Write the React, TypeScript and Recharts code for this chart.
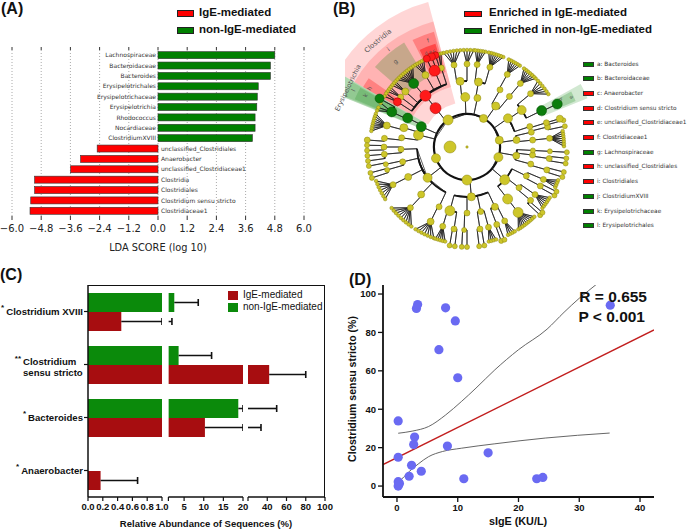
import React from 'react';
import {
  BarChart, Bar, XAxis, YAxis, CartesianGrid, Scatter,
  PieChart, Pie, Cell, ComposedChart, Line,
} from 'recharts';

const SANS = '"Liberation Sans", Arial, sans-serif';
const DJ = '"DejaVu Sans", sans-serif';

// ---------------- Panel A: LDA scores ----------------
const ldaTaxa = [
  'Lachnospiraceae', 'Bacteroidaceae', 'Bacteroides', 'Erysipelotrichales', 'Erysipelotrichaceae',
  'Erysipelotrichia', 'Rhodococcus', 'Nocardiaceae', 'ClostridiumXVIII', 'unclassified_Clostridiales',
  'Anaerobacter', 'unclassified_Clostridiaceae1', 'Clostridia', 'Clostridiales',
  'Clostridium sensu stricto', 'Clostridiaceae1',
];
const ldaScores = [4.8, 4.62, 4.62, 4.12, 4.08, 4.06, 3.99, 3.99, 3.88, -2.5, -3.18, -3.59, -5.07, -5.07, -5.23, -5.26];
const ldaTicks = [-6, -4.8, -3.6, -2.4, -1.2, 0, 1.2, 2.4, 3.6, 4.8, 6];
const groupNames = ['IgE-mediated', 'non-IgE-mediated'];

// ---------------- Panel B: cladogram ----------------
const cladePhyla: [number, number][] = [[125, 5], [200, 4.5], [270, 5], [342, 4.5], [12, 4], [60, 4]];
// parentAngle, parentRadius, childAngle, childRadius, colour, node size
const cladeEdges: [number, number, number, number, string, number][] = [
  [125, .33, 92, .5, 'y', 4.5], [125, .33, 129, .5, 'r', 5.5], [125, .33, 156, .5, 'g', 5], [125, .33, 166, .5, 'y', 5],
  [92, .5, 96, .66, 'y', 4], [96, .66, 99, .83, 'y', 3], [96, .66, 90, .83, 'y', 3],
  [129, .5, 129, .66, 'r', 5.5],
  [129, .66, 108, .83, 'y', 3], [129, .66, 113, .83, 'r', 5.5], [129, .66, 120, .83, 'y', 3.5], [129, .66, 130, .83, 'g', 5],
  [129, .66, 138, .83, 'y', 3.5], [129, .66, 143, .83, 'y', 3], [129, .66, 147, .83, 'r', 4],
  [113, .83, 109, .97, 'r', 3.5], [113, .83, 111.5, .97, 'r', 4], [113, .83, 114.5, .97, 'r', 3.5],
  [156, .5, 154, .66, 'g', 5], [154, .66, 155, .83, 'g', 5], [155, .83, 151, 1.0, 'g', 4.5],
  [166, .5, 163, .66, 'y', 4], [163, .66, 165, .83, 'y', 3.5], [166, .5, 172, .66, 'y', 3], [172, .66, 174, .83, 'y', 3], [174, .83, 176, 1.0, 'y', 3],
  [200, .33, 218, .5, 'y', 4.5],
  [218, .5, 182, .66, 'y', 3], [182, .66, 180, .83, 'y', 3], [180, .83, 179, 1.0, 'y', 2.5], [180, .83, 182, 1.0, 'y', 2.5],
  [182, .66, 185, .83, 'y', 3], [185, .83, 185, 1.0, 'y', 2.5], [185, .83, 188, 1.0, 'y', 2.5],
  [218, .5, 193, .66, 'y', 3], [193, .66, 192, .83, 'y', 2.5], [192, .83, 191, 1.0, 'y', 2.5], [193, .66, 196, .83, 'y', 2.5],
  [196, .83, 195, 1.0, 'y', 2.5], [196, .83, 198, 1.0, 'y', 2.5],
  [218, .5, 207, .66, 'y', 3.5], [207, .66, 207, .83, 'y', 3],
  [218, .5, 226, .66, 'y', 3.5], [226, .66, 227, .83, 'y', 3],
  [218, .5, 245, .66, 'y', 3], [245, .66, 244, .83, 'y', 3.5],
  [270, .33, 275, .5, 'y', 4],
  [275, .5, 255, .66, 'y', 5], [255, .66, 253, .83, 'y', 3], [255, .66, 261, .83, 'y', 3], [261, .83, 260, 1.0, 'y', 2.5], [261, .83, 263, 1.0, 'y', 2.5],
  [275, .5, 270, .66, 'y', 3], [270, .66, 268, .83, 'y', 2.5], [268, .83, 267, 1.0, 'y', 2.5], [268, .83, 270, 1.0, 'y', 2.5],
  [275, .5, 282, .66, 'y', 3], [282, .66, 279, .83, 'y', 3], [279, .83, 277, 1.0, 'y', 2.5], [279, .83, 280, 1.0, 'y', 2.5], [282, .66, 285, .83, 'y', 3],
  [275, .5, 295, .66, 'y', 3.5], [295, .66, 291, .83, 'y', 3], [291, .83, 290, 1.0, 'y', 2.5], [291, .83, 292, 1.0, 'y', 2.5], [295, .66, 297, .83, 'y', 3],
  [342, .33, 319, .5, 'y', 5],
  [319, .5, 308, .66, 'y', 5], [308, .66, 308, .83, 'y', 5],
  [319, .5, 322, .66, 'y', 3], [322, .66, 320, .83, 'y', 3], [320, .83, 317, 1.0, 'y', 2.5], [320, .83, 319, 1.0, 'y', 2.5], [322, .66, 325, .83, 'y', 3],
  [319, .5, 334, .66, 'y', 3], [334, .66, 332, .83, 'y', 3], [332, .83, 331, 1.0, 'y', 2.5], [332, .83, 333.5, 1.0, 'y', 2.5], [334, .66, 337, .83, 'y', 3],
  [342, .33, 350, .5, 'y', 3.5], [350, .5, 345, .66, 'y', 3], [345, .66, 344, .83, 'y', 3], [344, .83, 342.5, 1.0, 'y', 2.5], [344, .83, 345.5, 1.0, 'y', 2.5],
  [350, .5, 353, .66, 'y', 3], [353, .66, 352, .83, 'y', 3], [352, .83, 350.5, 1.0, 'y', 2.5], [352, .83, 353.5, 1.0, 'y', 2.5],
  [350, .5, 357, .66, 'y', 2.5], [357, .66, 357, .83, 'y', 2.5], [357, .83, 357, 1.0, 'y', 2.5],
  [12, .33, 8, .5, 'y', 3.5], [8, .5, 6, .66, 'y', 3], [6, .66, 6, .83, 'y', 3],
  [8, .5, 13, .66, 'y', 3], [13, .66, 14, .83, 'y', 3], [14, .83, 12, 1.0, 'y', 2.5], [14, .83, 15.5, 1.0, 'y', 2.5],
  [12, .33, 35, .5, 'y', 4.5], [35, .5, 18, .66, 'y', 3], [18, .66, 17, .83, 'y', 3], [17, .83, 17, .97, 'y', 3.5],
  [35, .5, 34, .66, 'y', 4.5], [34, .66, 26, .83, 'g', 5], [26, .83, 25.5, 1.0, 'g', 5], [34, .66, 40, .83, 'y', 3],
  [60, .33, 55, .5, 'y', 4], [55, .5, 50, .66, 'y', 3], [50, .66, 50, .83, 'y', 3], [55, .5, 60, .66, 'y', 3], [60, .66, 61, .83, 'y', 3],
  [60, .33, 78, .5, 'y', 3.5], [78, .5, 80, .66, 'y', 4], [80, .66, 74, .83, 'y', 3], [80, .66, 83, .83, 'y', 3],
];
// fan node angle, node radius, leaf angles
const cladeFans: [number, number, number[]][] = [
  [99, .83, [94, 96, 98, 100, 102, 104]], [90, .83, [86, 88, 90, 92]],
  [108, .83, [105.5, 107]], [120, .83, [116.5, 118, 119.5, 121, 122.5]],
  [130, .83, [124, 125.5, 127, 128.5, 130, 131.5, 133, 134.5, 136]], [138, .83, [137.5, 139, 140.5]],
  [143, .83, [142, 143.5, 145]], [147, .83, [146.5, 148.5]], [155, .83, [153, 156, 158]],
  [165, .83, [160, 161.5, 163, 164.5, 166, 167.5, 169, 170.5]],
  [207, .83, [200.5, 202.5, 204.5, 206.5, 208.5, 210.5, 212.5]],
  [227, .83, [219, 221, 223, 225, 227, 229, 231, 233, 235]],
  [244, .83, [238, 240, 242, 244, 246, 248, 250]],
  [253, .83, [251, 252.5, 254, 255.5, 257]], [285, .83, [283, 284.5, 286, 287.5]], [297, .83, [295, 296.5, 298, 299.5]],
  [308, .83, [302, 303.5, 305, 306.5, 308, 309.5, 311, 312.5, 314]],
  [325, .83, [321, 322.5, 324, 325.5, 327, 328.5]], [337, .83, [335.5, 337, 338.5, 340]],
  [6, .83, [0.5, 2, 3.5, 5, 6.5, 8, 9.5]], [40, .83, [33, 35, 37, 39, 41, 43]],
  [50, .83, [45, 46.5, 48, 49.5, 51, 52.5, 54]], [61, .83, [57, 58.5, 60, 61.5, 63, 64.5]],
  [74, .83, [68, 69.5, 71, 72.5, 74, 75.5, 77]], [83, .83, [79, 80.5, 82, 83.5, 85]],
];
// startAngle, endAngle, innerR, outerR, colour, opacity
const cladeWedges: [number, number, number, number, string, number][] = [
  [105, 150, .45, 1.5, '#ff0000', 0.16],
  [105, 150, .62, 1.3, '#ff0000', 0.16],
  [106, 117, .78, 1.2, '#ff0000', 0.28],
  [107, 116, .95, 1.08, '#ff0000', 0.45],
  [121, 139, .8, 1.22, '#008000', 0.22],
  [145, 150, .8, 1.2, '#ff0000', 0.28],
  [150, 158, .47, 1.5, '#008000', 0.3],
  [150.5, 157.5, .63, 1.32, '#008000', 0.18],
  [151, 157, .8, 1.22, '#008000', 0.18],
  [22, 29, .8, 1.3, '#008000', 0.18],
  [23, 28, .95, 1.18, '#008000', 0.22],
];
const cladeLabels: [string, number, number, number, number][] = [
  ['Clostridia', 130, 1.39, -40, 7],
  ['i', 129, 1.26, -39, 6], ['g', 130, 1.12, -40, 6], ['f', 110, 1.14, -20, 6], ['d e c', 111.5, 1.02, -20, 4.5],
  ['h', 149, 1.14, -59, 6], ['l', 153.5, 1.27, -63, 6], ['k', 153, 1.14, -63, 6],
  ['b', 27, 1.05, 63, 5], ['a', 25.5, 1.16, 64, 5],
];
const outerLabel: [string, number, number, number, number] = ['Erysipelotrichia', 154.5, 1.36, -64, 6.6];
const cladeLegend: [string, string][] = [
  ['a: Bacteroides', 'g'], ['b: Bacteroidaceae', 'g'], ['c: Anaerobacter', 'r'], ['d: Clostridium sensu stricto', 'r'],
  ['e: unclassified_Clostridiaceae1', 'r'], ['f: Clostridiaceae1', 'r'], ['g: Lachnospiraceae', 'g'],
  ['h: unclassified_Clostridiales', 'r'], ['i: Clostridiales', 'r'], ['j: ClostridiumXVIII', 'g'],
  ['k: Erysipelotrichaceae', 'g'], ['l: Erysipelotrichales', 'g'],
];
const enrichedNames = ['Enriched in IgE-mediated', 'Enriched in non-IgE-mediated'];

// ---------------- Panel C: relative abundance ----------------
const abundLabels = ['Clostridium XVIII', 'Clostridium\nsensu stricto', 'Bacteroides', 'Anaerobacter'];
const abundStars = ['*', '**', '*', '*'];
const igeMean = [0.45, 42, 10.3, 0.17];
const igeErr = [1.45, 38, 23.2, 0.5];
const nonIgeMean = [2.5, 3.6, 18.8, 0];
const nonIgeErr = [6.1, 8.4, 31, 0];
const seg1Ticks = [0, 0.2, 0.4, 0.6, 0.8, 1.0];
const seg2Ticks = [1, 5, 10, 15, 20];
const seg3Ticks = [20, 40, 60, 80, 100];

// ---------------- Panel D: correlation ----------------
const sigeX = [3.2, 3.4, 8.0, 9.6, 6.9, 10.0, 0.2, 2.9, 2.75, 8.3, 15.0, 0.2, 2.4, 4.0, 2.0, 11.0, 23.0, 24.0, 0.2, 0.3, 0.2, 0.4, 35.1];
const cssY = [92.5, 94.5, 92.8, 86, 71, 56.4, 33.9, 25.5, 21.6, 20.8, 17.3, 15, 10.8, 7.7, 5.1, 3.8, 3.8, 4.5, 2.3, 0.8, 0, 1.5, 94.2];
const fitPts: [number, number][] = [[-2.3, 11.2], [42.3, 81.3]];
const ciUpperPts: [number, number][] = [[0.2, 27.5], [2.5, 28.6], [5.2, 31], [8, 37], [10.6, 44], [13, 51], [16.1, 60.5], [20, 71], [24.7, 81.7], [27.5, 90.5], [30, 97.8], [33, 105.5], [35, 111]];
const ciLowerPts: [number, number][] = [[0.2, 1.7], [2, 7.5], [3.5, 11.5], [5.2, 15.3], [7.5, 18], [10.6, 19.7], [16.1, 22], [24.4, 25], [35, 27.6]];
const dXTicks = [0, 10, 20, 30, 40];
const dYTicks = [0, 20, 40, 60, 80, 100];

// ---------------- helpers / derived tables ----------------
const RED_A = '#ff0000';
const GREEN_A = '#008000';
const RED_C = '#a70d10';
const GREEN_C = '#0b8a0b';
const colorOf: Record<string, string> = { r: '#ff1a1a', g: '#0b7d0b', y: '#cdc62a' };
const strokeOf: Record<string, string> = { r: '#9a0000', g: '#054d05', y: '#8c870f' };

const ldaData = ldaTaxa.map((name, i) => ({ name, score: ldaScores[i] }));
const fmtLda = (v: number) => (v < 0 ? '\u2212' : '') + Math.abs(v).toFixed(1);

const toXY = (a: number, r: number) => ({ x: r * Math.cos((a * Math.PI) / 180), y: r * Math.sin((a * Math.PI) / 180) });
const LEAF_R = 0.97;
const yellowNodes = [
  { ...toXY(180, 0.17), s: 6, c: 'y' },
  { ...toXY(0, 0), s: 1.2, c: 'y' },
  ...cladeFans.flatMap(([, , leaves]) => leaves.map((l) => ({ ...toXY(l, LEAF_R), s: 1.8, c: 'y' }))),
  ...cladePhyla.map(([a, s]) => ({ ...toXY(a, 0.33), s, c: 'y' })),
  ...cladeEdges.filter((e) => e[4] === 'y').map(([, , ca, cr, c, s]) => ({ ...toXY(ca, cr), s, c })),
];
const colouredNodes = cladeEdges.filter((e) => e[4] !== 'y').map(([, , ca, cr, c, s]) => ({ ...toXY(ca, cr), s, c }));
const cladeNodes = [...yellowNodes, ...colouredNodes];

// one path per phylum: depth-first walk out along each branch and back again
function walkClade(a: number, r: number, path: { x: number; y: number }[]) {
  const kids = cladeEdges.filter((e) => e[0] === a && e[1] === r).sort((p, q) => p[2] - q[2]);
  kids.forEach(([, , ca, cr]) => {
    path.push(toXY(ca, r));
    path.push(toXY(ca, cr));
    walkClade(ca, cr, path);
    path.push(toXY(ca, r));
  });
  if (kids.length) path.push(toXY(a, r));
  const fan = cladeFans.find((f) => f[0] === a && f[1] === r);
  if (fan) fan[2].forEach((l) => { path.push(toXY(l, LEAF_R)); path.push(toXY(a, r)); });
}
const cladePaths = cladePhyla.map(([a]) => {
  const path = [toXY(a, 0.33)];
  walkClade(a, 0.33, path);
  return path;
});
const cladeArcs = cladeEdges
  .filter(([pa, pr, ca]) => pr > 0.4 && Math.abs(pa - ca) > 0.3)
  .map(([pa, pr, ca]) => [Math.min(pa, ca), Math.max(pa, ca), pr]);

const abundData = abundLabels.map((name, i) => ({
  name, ige: igeMean[i], igeE: igeErr[i], non: nonIgeMean[i], nonE: nonIgeErr[i],
}));

const dPoints = sigeX.map((x, i) => ({ x, y: cssY[i] }));
const fitData = fitPts.map(([x, y]) => ({ x, y }));
const ciUpper = ciUpperPts.map(([x, y]) => ({ x, y }));
const ciLower = ciLowerPts.map(([x, y]) => ({ x, y }));

// ---------------- shapes ----------------
const LdaBar = (p: any) => {
  const { x, y, width, height, payload } = p;
  const left = Math.min(x, x + width);
  const w = Math.abs(width);
  const pos = payload.score > 0;
  const zero = pos ? left : left + w;
  return (
    <g>
      <rect x={left} y={y} width={w} height={height} fill={pos ? GREEN_A : RED_A} stroke="#333" strokeWidth={0.6} />
      <text x={pos ? zero - 2 : zero + 3} y={y + height / 2} dy="0.35em" textAnchor={pos ? 'end' : 'start'}
        fontSize={6} fontFamily={DJ} fill="#333">{payload.name}</text>
    </g>
  );
};

const NodeShape = (p: any) => {
  const { cx, cy, payload } = p;
  return <circle cx={cx} cy={cy} r={payload.s} fill={colorOf[payload.c]} stroke={strokeOf[payload.c]} strokeWidth={0.5} />;
};

const ErrShape = (p: any) => {
  const { x, y, width, height } = p;
  if (!width || width <= 0) return <g />;
  const cy = y + height / 2;
  const x2 = x + width;
  return (
    <g>
      <line x1={x} y1={cy} x2={x2} y2={cy} stroke="#111" strokeWidth={1.6} />
      <line x1={x2} y1={cy - 3.5} x2={x2} y2={cy + 3.5} stroke="#111" strokeWidth={1.6} />
    </g>
  );
};

const AbundTick = (p: any) => {
  const { x, y, payload } = p;
  const i = abundLabels.indexOf(payload.value);
  const lines = abundLabels[i].split('\n');
  const star = abundStars[i];
  const right = x + 1;
  const common = { fontFamily: SANS, fontWeight: 'bold' as const, fill: '#111' };
  if (lines.length === 1) {
    return (
      <text x={right} y={y + 3.5} textAnchor="end" fontSize={9.6} {...common}>
        <tspan fontSize={8} dy={-5}>{star}</tspan>
        <tspan dx={2} dy={5}>{lines[0]}</tspan>
      </text>
    );
  }
  const start = right - 60;
  return (
    <g>
      <text x={start - 2} y={y - 4} textAnchor="end" fontSize={8} {...common}>{star}</text>
      <text x={start} y={y} fontSize={9.6} {...common}>{lines[0]}</text>
      <text x={start} y={y + 11} fontSize={9.6} {...common}>{lines[1]}</text>
    </g>
  );
};

const DPoint = (p: any) => <circle cx={p.cx} cy={p.cy} r={4.6} fill="#6a6af2" />;

// ---------------- panel C segment ----------------
function AbundSegment(props: { left: number; width: number; mLeft: number; mRight: number; domain: [number, number]; ticks: number[]; showY: boolean; fmt: (v: number) => string }) {
  const { left, width, mLeft, mRight, domain, ticks, showY, fmt } = props;
  return (
    <div style={{ position: 'absolute', left, top: 275 }}>
      <BarChart layout="vertical" width={width} height={257} data={abundData}
        margin={{ top: 10, right: mRight, left: mLeft, bottom: 5 }} barCategoryGap={8} barGap={0}>
        <XAxis type="number" domain={domain} ticks={ticks} allowDataOverflow interval={0} height={30}
          axisLine={{ stroke: '#111', strokeWidth: 1.5 }} tickLine={{ stroke: '#111', strokeWidth: 1.2 }} tickSize={4} tickMargin={2}
          tick={{ fontSize: 9.5, fontWeight: 'bold', fontFamily: SANS, fill: '#111' }} tickFormatter={fmt} />
        <YAxis type="category" dataKey="name" hide={!showY} width={88} interval={0}
          axisLine={{ stroke: '#111', strokeWidth: 1.5 }} tickLine={{ stroke: '#111', strokeWidth: 1.2 }} tickSize={4}
          tick={<AbundTick />} />
        <Bar dataKey="non" stackId="g" fill={GREEN_C} isAnimationActive={false} />
        <Bar dataKey="nonE" stackId="g" shape={ErrShape} isAnimationActive={false} />
        <Bar dataKey="ige" stackId="r" fill={RED_C} isAnimationActive={false} />
        <Bar dataKey="igeE" stackId="r" shape={ErrShape} isAnimationActive={false} />
      </BarChart>
    </div>
  );
}

const abs = (l: number, t: number, extra: React.CSSProperties = {}): React.CSSProperties => ({ position: 'absolute', left: l, top: t, whiteSpace: 'nowrap', ...extra });

export default function App() {
  const panelLabel = { fontFamily: SANS, fontWeight: 'bold' as const, fontSize: 16, lineHeight: '18px', color: '#111' };
  const legendText = { fontFamily: SANS, fontWeight: 'bold' as const, fontSize: 11.5, lineHeight: '14px', color: '#111' };
  const op = toXY(outerLabel[1], outerLabel[2]);
  return (
    <div style={{ position: 'absolute', left: 0, top: 0, width: 691, height: 531, background: '#fff', overflow: 'hidden' }}>
      {/* ---------- Panel A ---------- */}
      <div style={abs(1, 0, panelLabel)}>(A)</div>
      {groupNames.map((g, i) => (
        <React.Fragment key={g}>
          <div style={abs(177, 10 + i * 17, { width: 17, height: 7, background: i === 0 ? RED_A : GREEN_A, border: '1px solid #222', boxSizing: 'border-box' })} />
          <div style={abs(199, 5 + i * 17, legendText)}>{g}</div>
        </React.Fragment>
      ))}
      <div style={abs(0, 0)}>
        <BarChart layout="vertical" width={320} height={262} data={ldaData}
          margin={{ top: 46, right: 16, left: 12, bottom: 16 }} barCategoryGap="16%">
          <CartesianGrid horizontal={false} vertical strokeDasharray="1 2" stroke="#aaa" />
          <XAxis type="number" dataKey="score" domain={[-6, 6]} ticks={ldaTicks} allowDataOverflow interval={0}
            axisLine={false} tickSize={4} tickMargin={5} height={30} tickLine={{ stroke: '#333' }}
            tick={{ fontSize: 10, fontFamily: DJ, fill: '#222' }} tickFormatter={fmtLda} />
          <XAxis xAxisId="top" orientation="top" type="number" domain={[-6, 6]} ticks={ldaTicks} allowDataOverflow interval={0}
            axisLine={false} tickSize={3} height={4} tickLine={{ stroke: '#333' }} tickFormatter={() => ''} />
          <YAxis type="category" dataKey="name" hide />
          <Bar dataKey="score" shape={LdaBar} isAnimationActive={false} />
        </BarChart>
      </div>
      <div style={abs(158, 242, { fontFamily: DJ, fontSize: 9.8, color: '#222', transform: 'translateX(-50%)' })}>LDA SCORE (log 10)</div>

      {/* ---------- Panel B ---------- */}
      <div style={abs(333, 0, panelLabel)}>(B)</div>
      {enrichedNames.map((g, i) => (
        <React.Fragment key={g}>
          <div style={abs(464, 11 + i * 17, { width: 18, height: 6, background: i === 0 ? RED_A : GREEN_A, border: '1px solid #222', boxSizing: 'border-box' })} />
          <div style={abs(489, 5 + i * 17, legendText)}>{g}</div>
        </React.Fragment>
      ))}
      <div style={{ position: 'absolute', left: 345, top: 0, width: 246, height: 300, overflow: 'hidden' }}>
        <div style={abs(0, 0)}>
          <PieChart width={246} height={300} margin={{ top: 0, right: 0, bottom: 0, left: 0 }}>
            {cladeWedges.map(([a0, a1, r0, r1, col, opac], i) => (
              <Pie key={'w' + i} data={[{ v: 1 }]} dataKey="v" cx={122} cy={147} startAngle={a0} endAngle={a1}
                innerRadius={r0 * 100} outerRadius={r1 * 100} stroke="none" isAnimationActive={false}>
                <Cell fill={col} fillOpacity={opac} />
              </Pie>
            ))}
            <Pie data={[{ v: 1 }]} dataKey="v" cx={122} cy={147} startAngle={0} endAngle={360}
              innerRadius={32} outerRadius={34.2} stroke="none" isAnimationActive={false}>
              <Cell fill="#111" />
            </Pie>
            {cladeArcs.map(([a0, a1, r], i) => (
              <Pie key={'a' + i} data={[{ v: 1 }]} dataKey="v" cx={122} cy={147} startAngle={a0} endAngle={a1}
                innerRadius={r * 100 - 0.9} outerRadius={r * 100 + 0.9} stroke="none" isAnimationActive={false}>
                <Cell fill="#111" />
              </Pie>
            ))}
          </PieChart>
        </div>
        <div style={abs(0, 0)}>
          <ComposedChart width={246} height={300} margin={{ top: 10, right: 10, bottom: 10, left: 10 }}>
            <XAxis type="number" dataKey="x" domain={[-1.12, 1.14]} ticks={[-1, 0, 1]} allowDataOverflow height={0}
              axisLine={false} tickLine={false} tick={false} />
            <YAxis type="number" domain={[-1.43, 1.37]} ticks={[-1, 0, 1]} allowDataOverflow width={0}
              axisLine={false} tickLine={false} tick={false} />
            {cladePaths.map((pts, i) => (
              <Line key={'p' + i} data={pts} dataKey="y" type="linear" stroke="#1a1a1a" strokeWidth={0.7}
                dot={false} isAnimationActive={false} />
            ))}
            <Scatter data={cladeNodes} dataKey="y" shape={NodeShape} isAnimationActive={false} />
          </ComposedChart>
        </div>
        {cladeLabels.map(([t, a, r, rot, fs]) => {
          const p = toXY(a, r);
          return (
            <div key={t} style={abs(122 + p.x * 100, 147 - p.y * 100, {
              fontFamily: DJ, fontSize: fs, color: '#555', transform: `translate(-50%, -50%) rotate(${rot}deg)`,
            })}>{t}</div>
          );
        })}
      </div>
      <div style={abs(345 + 122 + op.x * 100 + 4, 147 - op.y * 100, {
        fontFamily: DJ, fontSize: outerLabel[4], color: '#555', transform: `translate(-50%, -50%) rotate(${outerLabel[3]}deg)`,
      })}>{outerLabel[0]}</div>
      {cladeLegend.map(([t, c], i) => (
        <React.Fragment key={t}>
          <div style={abs(583, 61.8 + i * 14.67, { width: 11, height: 5, background: c === 'r' ? RED_A : GREEN_A, border: '0.8px solid #333', boxSizing: 'border-box' })} />
          <div style={abs(597, 59.8 + i * 14.67, { fontFamily: DJ, fontSize: 5.8, lineHeight: '9px', color: '#333' })}>{t}</div>
        </React.Fragment>
      ))}

      {/* ---------- Panel C ---------- */}
      <div style={abs(0, 266, panelLabel)}>(C)</div>
      <AbundSegment left={0} width={175} mLeft={0} mRight={13} domain={[0, 1]} ticks={seg1Ticks} showY fmt={(v) => v.toFixed(1)} />
      <AbundSegment left={158} width={97} mLeft={10.4} mRight={12} domain={[1, 20]} ticks={seg2Ticks} showY={false} fmt={(v) => (v === 1 ? '' : String(v))} />
      <AbundSegment left={236} width={100} mLeft={12} mRight={11} domain={[20, 100]} ticks={seg3Ticks} showY={false} fmt={(v) => (v === 20 ? '' : String(v))} />
      <div style={abs(87.5, 284.5, { width: 237, height: 213, borderTop: '1.5px solid #111', borderRight: '1.5px solid #111', boxSizing: 'border-box', pointerEvents: 'none' })} />
      {groupNames.map((g, i) => (
        <React.Fragment key={'c' + g}>
          <div style={abs(228, 291 + i * 12, { width: 10, height: 9, background: i === 0 ? RED_C : GREEN_C })} />
          <div style={abs(243, 289 + i * 12, { fontFamily: SANS, fontSize: 10, lineHeight: '12px', color: '#111' })}>{g}</div>
        </React.Fragment>
      ))}
      <div style={abs(206, 518, { fontFamily: SANS, fontWeight: 'bold', fontSize: 9.5, color: '#111', transform: 'translateX(-50%)' })}>Relative Abundance of Sequences (%)</div>

      {/* ---------- Panel D ---------- */}
      <div style={abs(349, 271, panelLabel)}>(D)</div>
      <div style={abs(345, 270)}>
        <ComposedChart width={346} height={261} margin={{ top: 15, right: 37, left: 16, bottom: 14 }}>
          <XAxis type="number" dataKey="x" domain={[-2.3, 42.3]} ticks={dXTicks} allowDataOverflow interval={0} height={20}
            axisLine={{ stroke: '#111', strokeWidth: 1.8 }} tickLine={{ stroke: '#111', strokeWidth: 1.3 }} tickSize={5} tickMargin={2}
            tick={{ fontSize: 9.5, fontWeight: 'bold', fontFamily: SANS, fill: '#111' }} />
          <XAxis xAxisId="top" orientation="top" type="number" dataKey="x" domain={[-2.3, 42.3]} allowDataOverflow height={0}
            tick={false} tickLine={false} axisLine={{ stroke: '#111', strokeWidth: 1.8 }} />
          <YAxis type="number" domain={[-5.7, 104.7]} ticks={dYTicks} allowDataOverflow interval={0} width={22}
            axisLine={{ stroke: '#111', strokeWidth: 1.8 }} tickLine={{ stroke: '#111', strokeWidth: 1.3 }} tickSize={5} tickMargin={2}
            tick={{ fontSize: 9.5, fontWeight: 'bold', fontFamily: SANS, fill: '#111' }} />
          <YAxis yAxisId="right" orientation="right" type="number" domain={[-5.7, 104.7]} allowDataOverflow width={0}
            tick={false} tickLine={false} axisLine={{ stroke: '#111', strokeWidth: 1.8 }} />
          <Line data={ciUpper} dataKey="y" type="monotone" stroke="#555" strokeWidth={0.9} dot={false} isAnimationActive={false} />
          <Line data={ciLower} dataKey="y" type="monotone" stroke="#555" strokeWidth={0.9} dot={false} isAnimationActive={false} />
          <Line data={fitData} dataKey="y" type="linear" stroke="#c21e1e" strokeWidth={1.4} dot={false} isAnimationActive={false} />
          <Scatter data={dPoints} dataKey="y" shape={DPoint} isAnimationActive={false} />
        </ComposedChart>
      </div>
      <div style={abs(352, 389, { fontFamily: SANS, fontWeight: 'bold', fontSize: 10.5, color: '#111', transform: 'translate(-50%, -50%) rotate(-90deg)' })}>Clostridium sensu stricto (%)</div>
      <div style={abs(518, 515, { fontFamily: SANS, fontWeight: 'bold', fontSize: 10.8, color: '#111', transform: 'translateX(-50%)' })}>sIgE (KU/L)</div>
      <div style={abs(647, 288, { fontFamily: SANS, fontWeight: 'bold', fontSize: 15.5, lineHeight: '18px', color: '#111', transform: 'translateX(-100%)' })}>R = 0.655</div>
      <div style={abs(645, 308, { fontFamily: SANS, fontWeight: 'bold', fontSize: 15.5, lineHeight: '18px', color: '#111', transform: 'translateX(-100%)' })}>P &lt; 0.001</div>
    </div>
  );
}
